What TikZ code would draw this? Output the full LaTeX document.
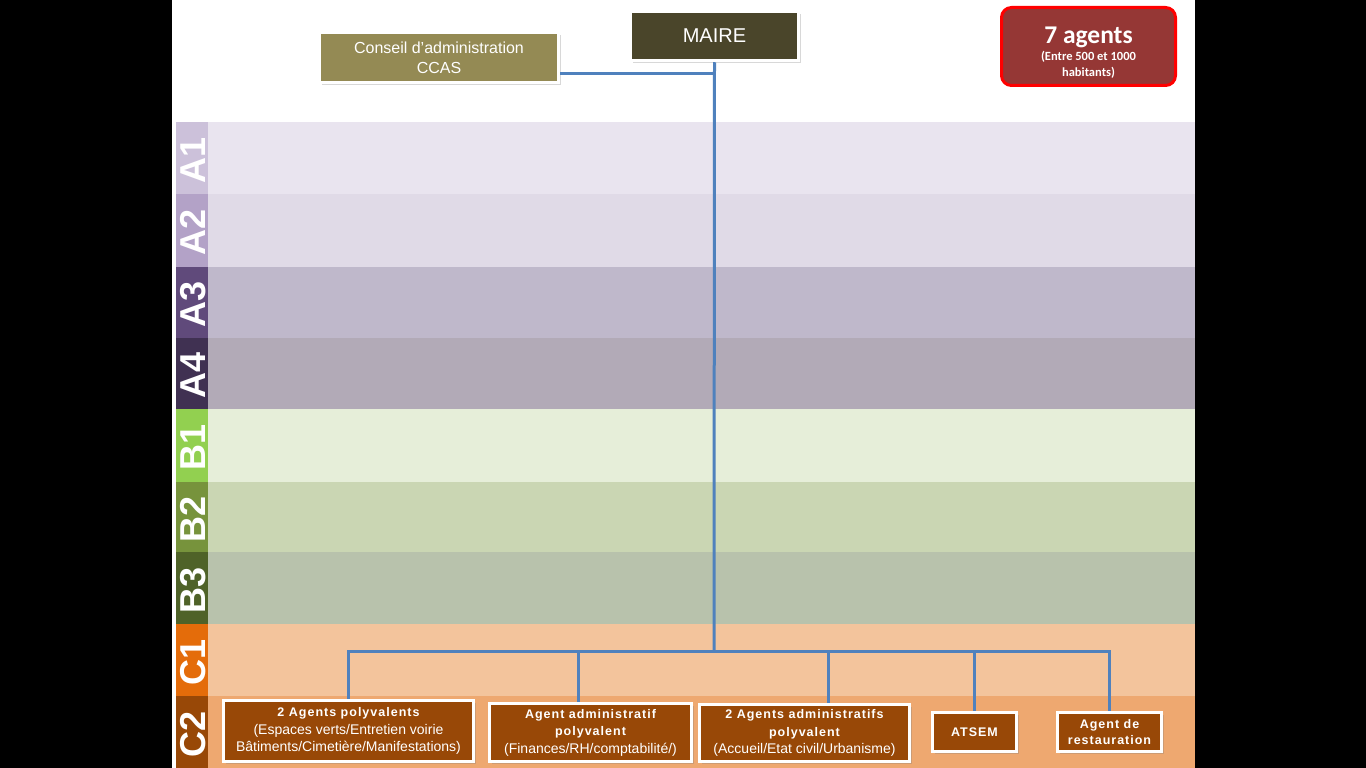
\documentclass[tikz,border=0pt]{standalone}
\usepackage{fontspec}
\setmainfont{Liberation Sans}
\newfontfamily\spbf[LetterSpace=8]{Liberation Sans}
\newfontfamily\calfont{Carlito}
\usetikzlibrary{shadows}
\definecolor{labA1}{HTML}{CCC1DA}\definecolor{bandA1}{HTML}{E9E4EF}
\definecolor{labA2}{HTML}{B3A2C7}\definecolor{bandA2}{HTML}{E0DAE7}
\definecolor{labA3}{HTML}{604A7B}\definecolor{bandA3}{HTML}{BFB8CB}
\definecolor{labA4}{HTML}{403152}\definecolor{bandA4}{HTML}{B2AAB7}
\definecolor{labB1}{HTML}{92D050}\definecolor{bandB1}{HTML}{E6EED9}
\definecolor{labB2}{HTML}{77933C}\definecolor{bandB2}{HTML}{CAD6B3}
\definecolor{labB3}{HTML}{4F6228}\definecolor{bandB3}{HTML}{B8C2AC}
\definecolor{labC1}{HTML}{E46C0A}\definecolor{bandC1}{HTML}{F3C49C}
\definecolor{labC2}{HTML}{984807}\definecolor{bandC2}{HTML}{EEA870}
\definecolor{connblue}{HTML}{4F81BD}
\definecolor{agentbrown}{HTML}{984807}
\definecolor{mairefill}{HTML}{4A452A}
\definecolor{ccasfill}{HTML}{948A54}
\definecolor{agentsfill}{HTML}{953735}
\begin{document}
\begin{tikzpicture}[x=1pt,y=-1pt,
  conn/.style={draw=connblue, line width=3pt},
  lvl/.style={font=\fontsize{36}{36}\selectfont\bfseries, text=white, rotate=90, inner sep=0pt},
  shad/.style={drop shadow={opacity=0.3, shadow xshift=2pt, shadow yshift=-2.5pt}},
  topbox/.style={shad, draw=white, line width=3.5pt, text=white, align=center, inner sep=0pt},
  agent/.style={shad, draw=white, line width=3.5pt, fill=agentbrown, text=white, align=center, inner sep=0pt,
    font=\fontsize{14}{17.5}\selectfont},
  bt/.style={}
]
\useasboundingbox (0,0) rectangle (1366,768);
\fill[black] (0,0) rectangle (1366,768);
\fill[white] (172,0) rectangle (1195,768);

\foreach \n/\t/\b in {A1/122/194, A2/194/267, A3/267/338, A4/338/409, B1/409/482, B2/482/552, B3/552/624, C1/624/696, C2/696/768}{
  \fill[band\n] (208,\t) rectangle (1195,\b);
  \fill[lab\n] (176,\t) rectangle (208,\b);
  \node[lvl] (lab\n) at (193,{(\t+\b)/2+2}) {\n};
}

% top boxes
\node[topbox, fill=mairefill, minimum width=168pt, minimum height=49pt,
      font=\fontsize{20}{22}\selectfont] (maire) at (714.5,36) {MAIRE};
\node[topbox, fill=ccasfill, minimum width=239pt, minimum height=50pt,
      font=\fontsize{16}{20}\selectfont] (ccas) at (439,57.5) {Conseil d’administration\\CCAS};
\node[draw=red, line width=3pt, fill=agentsfill, rounded corners=10pt, minimum width=174pt,
      minimum height=78pt, text=white, align=center, inner sep=0pt,
      font=\calfont\bfseries\fontsize{12.5}{16}\selectfont] (agents) at (1088.5,46.5)
      {{\calfont\bfseries\fontsize{25.5}{26}\selectfont\rule{0pt}{29pt}7 agents}\\[1pt]
       (Entre 500 et 1000\\habitants)};

% bottom boxes
\node[agent, minimum width=250pt, minimum height=61pt] (box1) at (348.5,731)
  {{\spbf\bfseries\fontsize{12.5}{17}\selectfont 2 Agents polyvalents}\\(Espaces verts/Entretien voirie\\Bâtiments/Cimetière/Manifestations)};
\node[agent, minimum width=202pt, minimum height=58pt] (box2) at (590.5,732.5)
  {{\spbf\bfseries\fontsize{12.5}{17}\selectfont Agent administratif}\\{\spbf\bfseries\fontsize{12.5}{17}\selectfont polyvalent}\\(Finances/RH/comptabilité/)};
\node[agent, minimum width=210pt, minimum height=57pt] (box3) at (804.5,733)
  {{\spbf\bfseries\fontsize{12.5}{17}\selectfont 2 Agents administratifs}\\{\spbf\bfseries\fontsize{12.5}{17}\selectfont polyvalent}\\(Accueil/Etat civil/Urbanisme)};
\node[agent, minimum width=84pt, minimum height=39pt, font=\spbf\bfseries\fontsize{12.5}{16}\selectfont] (box4) at (974.5,732) {ATSEM};
\node[agent, minimum width=104pt, minimum height=39pt, font=\spbf\bfseries\fontsize{12.5}{16}\selectfont] (box5) at (1109.5,732) {Agent de\\restauration};

% connectors
\coordinate (bus) at (714,651);
\coordinate (jct) at (714,74);
\coordinate (d1) at (box1.north);
\coordinate (d2) at ([xshift=-12.5pt]box2.north);
\coordinate (d3) at ([xshift=23.5pt]box3.north);
\coordinate (d4) at (box4.north);
\coordinate (d5) at (box5.north);
\draw[conn] (maire.south) -- (bus);
\draw[conn] (ccas.east |- jct) -- (jct);
\draw[conn, line cap=rect] (d1 |- bus) -- (d5 |- bus);
\foreach \d in {d1,d2,d3,d4,d5}{
  \draw[conn] (\d |- bus) -- (\d);
}
\end{tikzpicture}
\end{document}
